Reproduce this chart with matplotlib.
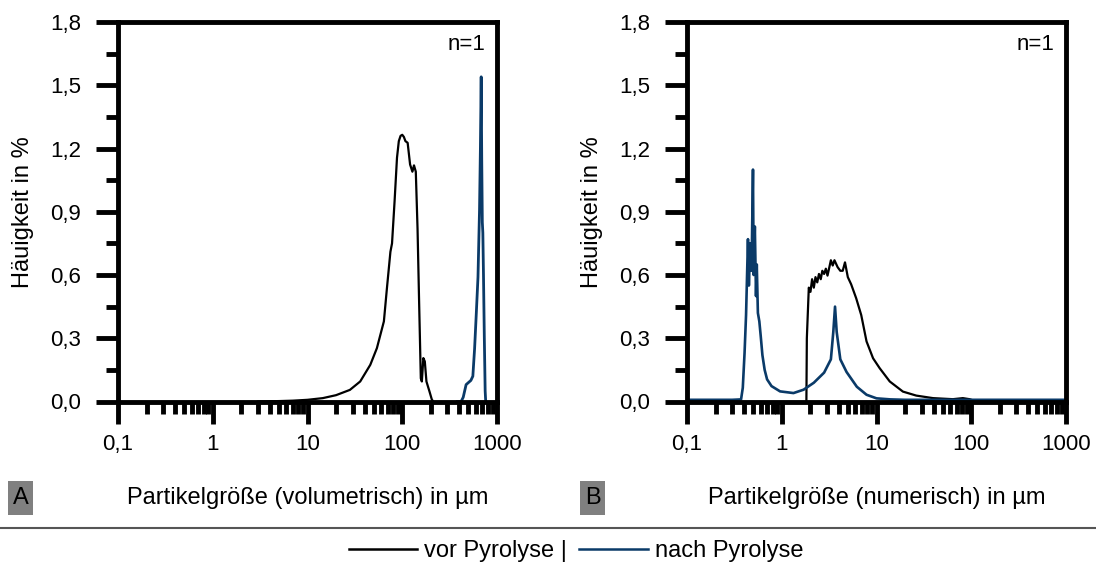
import numpy as np
import matplotlib
matplotlib.use("Agg")
import matplotlib.pyplot as plt
from matplotlib.ticker import FixedLocator, FuncFormatter, LogLocator, NullFormatter
from matplotlib.lines import Line2D
from matplotlib.patches import Rectangle

plt.rcParams['font.family'] = ['Liberation Sans', 'DejaVu Sans']

# *** DATA *** #

# A: volumetric distribution
volX_vor = [3, 5, 7, 10, 14.5, 20, 28, 36, 46, 54, 64, 69, 75, 78, 83, 88, 92, 96, 100, 104, 108,
            114, 121, 128, 133, 139, 145, 150, 157, 161, 167, 173, 180, 194, 205, 212]
volY_vor = [0.0, 0.002, 0.004, 0.008, 0.016, 0.03, 0.055, 0.095, 0.174, 0.253, 0.38, 0.54, 0.71,
            0.75, 0.95, 1.156, 1.235, 1.26, 1.265, 1.255, 1.235, 1.227, 1.124, 1.09, 1.12, 1.09,
            0.82, 0.51, 0.11, 0.095, 0.206, 0.19, 0.095, 0.047, 0.01, 0.0]

volX_nach = [380, 418, 440, 472, 500, 530, 556, 580, 605, 630, 654, 668, 681, 690, 700, 709,
             720, 735, 750, 760]
volY_nach = [0.0, 0.0, 0.02, 0.08, 0.09, 0.10, 0.12, 0.25, 0.42, 0.59, 0.91, 1.2, 1.54, 1.15,
             0.85, 0.80, 0.60, 0.30, 0.05, 0.0]

# B: number distribution
numX_vor = [1.82, 1.84, 1.93, 2.01, 2.09, 2.18, 2.27, 2.37, 2.47, 2.58, 2.68, 2.8, 2.92, 3.04,
            3.3, 3.45, 3.6, 3.89, 4.15, 4.4, 4.65, 4.98, 5.4, 6.1, 6.9, 7.85, 9.2, 10.8, 13.8,
            19, 26.3, 39.5, 64, 81.5, 96, 113]
numY_vor = [0.0, 0.30, 0.54, 0.52, 0.58, 0.54, 0.59, 0.565, 0.605, 0.58, 0.62, 0.605, 0.63,
            0.597, 0.67, 0.645, 0.67, 0.637, 0.62, 0.62, 0.66, 0.59, 0.556, 0.49, 0.41, 0.285,
            0.205, 0.158, 0.095, 0.047, 0.028, 0.016, 0.011, 0.016, 0.011, 0.0]

numX_nach = [0.1, 0.2, 0.3, 0.372, 0.388, 0.405, 0.42, 0.44, 0.45, 0.465, 0.48, 0.497, 0.505,
             0.52, 0.535, 0.545, 0.56, 0.58, 0.6, 0.625, 0.66, 0.70, 0.78, 0.96, 1.33, 1.7,
             2.18, 2.8, 3.3, 3.5, 3.65, 3.8, 4.15, 4.83, 6.2, 7.85, 10, 14, 20, 50, 100, 1000]
numY_nach = [0.008, 0.008, 0.008, 0.01, 0.065, 0.23, 0.41, 0.77, 0.55, 0.75, 0.62, 1.10, 0.60,
             0.83, 0.50, 0.65, 0.42, 0.38, 0.31, 0.22, 0.15, 0.105, 0.073, 0.048, 0.04, 0.056,
             0.089, 0.137, 0.2, 0.33, 0.45, 0.33, 0.2, 0.14, 0.07, 0.032, 0.015, 0.01, 0.008,
             0.008, 0.008, 0.008]

xTicks = [0.1, 1, 10, 100, 1000]
xTickLabels = ['0,1', '1', '10', '100', '1000']
yTicks = [0.0, 0.3, 0.6, 0.9, 1.2, 1.5, 1.8]

BLUE = '#0a3a68'
FS = 16
LFS = 17
W, H = 1096, 565
AX_W, AX_TOP, AX_BOT = 379, 22, 401.5


def styleAxis(ax):
    ax.set_xscale('log')
    ax.set_xlim(0.1, 1000)
    ax.set_ylim(0, 1.8)
    for s in ax.spines.values():
        s.set_linewidth(3.5)
    ax.xaxis.set_major_locator(FixedLocator(xTicks))
    ax.xaxis.set_major_formatter(FuncFormatter(lambda v, p: xTickLabels[xTicks.index(v)] if v in xTicks else ''))
    ax.xaxis.set_minor_locator(LogLocator(base=10, subs=np.arange(2, 10)))
    ax.xaxis.set_minor_formatter(NullFormatter())
    ax.yaxis.set_major_locator(FixedLocator(yTicks))
    ax.yaxis.set_minor_locator(FixedLocator(np.arange(0.15, 1.8, 0.3)))
    ax.yaxis.set_major_formatter(FuncFormatter(lambda v, p: f'{v:.1f}'.replace('.', ',')))
    ax.tick_params(which='major', direction='out', length=15.5, width=3.5, labelsize=FS, pad=11)
    ax.tick_params(which='minor', direction='out', length=8.5, width=3.5)
    ax.tick_params(axis='x', which='major', pad=8)
    ax.text(0.97, 0.94, 'n=1', transform=ax.transAxes, ha='right', va='center', fontsize=FS)


fig = plt.figure(figsize=(W / 100, H / 100), dpi=100)
axA = fig.add_axes([118 / W, (H - AX_BOT) / H, AX_W / W, (AX_BOT - AX_TOP) / H])
axB = fig.add_axes([687 / W, (H - AX_BOT) / H, AX_W / W, (AX_BOT - AX_TOP) / H])

axA.plot(volX_vor, volY_vor, color='black', lw=1.6)
axA.plot(volX_nach, volY_nach, color=BLUE, lw=2.0)
axB.plot(numX_vor, numY_vor, color='black', lw=1.6)
axB.plot(numX_nach, numY_nach, color=BLUE, lw=1.9)

for ax in (axA, axB):
    styleAxis(ax)

# labels
ymid = (H - (AX_TOP + AX_BOT) / 2) / H
fig.text(23 / W, ymid, 'Häuigkeit in %', rotation=90, ha='center', va='center', fontsize=LFS)
fig.text(592 / W, ymid, 'Häuigkeit in %', rotation=90, ha='center', va='center', fontsize=LFS)
fig.text((118 + AX_W / 2) / W, (H - 498) / H, 'Partikelgröße (volumetrisch) in µm',
         ha='center', va='center', fontsize=LFS)
fig.text((687 + AX_W / 2) / W, (H - 498) / H, 'Partikelgröße (numerisch) in µm',
         ha='center', va='center', fontsize=LFS)

# panel letters in grey boxes
for x0, letter in ((8, 'A'), (580, 'B')):
    fig.add_artist(Rectangle((x0 / W, (H - 515) / H), 24.5 / W, 34 / H, transform=fig.transFigure,
                             facecolor='#808080', edgecolor='none'))
    fig.text((x0 + 12.5) / W, (H - 498) / H, letter, ha='center', va='center', fontsize=LFS)

# separator line + legend
fig.add_artist(Line2D([0, 1], [(H - 528) / H] * 2, transform=fig.transFigure, color='#555555', lw=1.5))
handles = [Line2D([], [], color='black', lw=1.8), Line2D([], [], color=BLUE, lw=1.8)]
fig.legend(handles, ['vor Pyrolyse |', 'nach Pyrolyse'], loc='center', ncol=2, frameon=False,
           bbox_to_anchor=(576 / W, (H - 551) / H), fontsize=LFS, handlelength=2.9,
           handletextpad=0.3, columnspacing=0.5, borderpad=0, borderaxespad=0)

plt.savefig('out.png', dpi=100)
